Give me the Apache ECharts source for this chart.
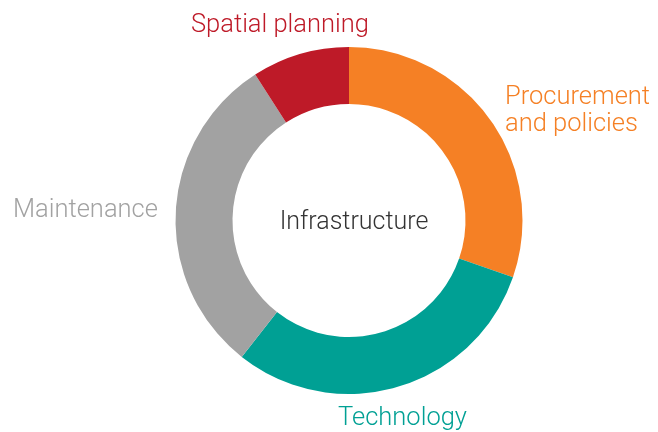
<!DOCTYPE html>
<html>
<head>
<meta charset="utf-8">
<style>html,body{margin:0;padding:0;background:#fff;}#c{width:658px;height:432px;}</style>
<script src="https://cdn.jsdelivr.net/npm/echarts@6/dist/echarts.min.js"></script>
</head>
<body>
<div id="c"></div>
<script>
const categories = ['Procurement\nand policies', 'Technology', 'Maintenance', 'Spatial planning'];
const values = [30, 30, 30, 9];
const colors = ['#F58025', '#00A094', '#A2A2A2', '#BE1A28'];
const centerLabel = 'Infrastructure';

const labelPos = [
  {x: 505, y: 111.5},
  {x: 338, y: 419},
  {x: 13, y: 210.5},
  {x: 191, y: 25.5}
];

const chart = echarts.init(document.getElementById('c'), null, {renderer: 'canvas'});
const graphics = categories.map((name, i) => ({
  type: 'text',
  x: labelPos[i].x,
  y: labelPos[i].y,
  style: {
    text: name,
    fill: colors[i],
    font: '300 25.5px Roboto',
    lineHeight: 27,
    align: 'left',
    verticalAlign: 'middle'
  }
}));
graphics.push({
  type: 'text',
  x: 354,
  y: 222.5,
  style: {text: centerLabel, fill: '#333333', font: '300 25px Roboto', align: 'center', verticalAlign: 'middle'}
});

chart.setOption({
  animation: false,
  graphic: graphics,
  series: [{
    type: 'pie',
    center: [349, 220.5],
    radius: [116.5, 173.5],
    startAngle: 90,
    clockwise: true,
    label: {show: false},
    labelLine: {show: false},
    emphasis: {disabled: true},
    itemStyle: {borderWidth: 0},
    data: categories.map((n, i) => ({name: n, value: values[i], itemStyle: {color: colors[i]}}))
  }]
});
</script>
</body>
</html>
